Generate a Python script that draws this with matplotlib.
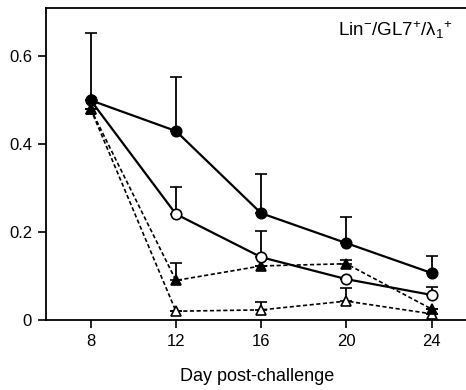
import matplotlib
matplotlib.use("Agg")
import matplotlib.pyplot as plt

plt.rcParams['font.family'] = ['Liberation Sans', 'DejaVu Sans']
plt.rcParams['mathtext.default'] = 'regular'

days = [8, 12, 16, 20, 24]

# filled circles (solid)
fc_mean = [0.50, 0.43, 0.243, 0.175, 0.107]
fc_err = [0.152, 0.122, 0.089, 0.059, 0.038]
# open circles (solid)
oc_mean = [0.50, 0.241, 0.143, 0.093, 0.057]
oc_err = [0.0, 0.061, 0.059, 0.0, 0.018]
# filled triangles (dashed)
ft_mean = [0.48, 0.09, 0.123, 0.128, 0.025]
ft_err = [0.0, 0.04, 0.0, 0.008, 0.0]
# open triangles (dashed)
ot_mean = [0.48, 0.02, 0.023, 0.043, 0.014]
ot_err = [0.0, 0.0, 0.018, 0.03, 0.0]

fig = plt.figure(figsize=(4.66, 3.9), dpi=100)
ax = fig.add_axes([0.0987, 0.1795, 0.905, 0.8])

def series(mean, err, marker, face, ls):
    ax.errorbar(days, mean, yerr=[[0] * len(err), err], fmt=marker, ls=ls,
                color='black', mfc=face, mec='black', ms=7.5, mew=1.2,
                lw=1.6 if ls == '-' else 1.2, elinewidth=1.3, capsize=4,
                capthick=1.3, clip_on=False, zorder=3)

series(ot_mean, ot_err, '^', 'white', (0, (2.5, 1.5)))
series(ft_mean, ft_err, '^', 'black', (0, (2.5, 1.5)))
series(oc_mean, oc_err, 'o', 'white', '-')
series(fc_mean, fc_err, 'o', 'black', '-')

ax.set_xlim(5.9, 25.7)
ax.set_ylim(0, 0.71)
ax.set_xticks(days)
ax.set_yticks([0, 0.2, 0.4, 0.6])
ax.set_yticklabels(['0', '0.2', '0.4', '0.6'])
ax.tick_params(direction='out', length=6, width=1.2, labelsize=12, pad=4)
for s in ax.spines.values():
    s.set_linewidth(1.3)
ax.spines['right'].set_visible(False)

ax.set_xlabel('Day post-challenge', fontsize=13, labelpad=14)
ax.text(0.962, 0.93, 'Lin$^{-}$/GL7$^{+}$/λ$_{1}$$^{+}$', transform=ax.transAxes,
        ha='right', va='center', fontsize=13.5)

fig.savefig('out.png', dpi=100)
